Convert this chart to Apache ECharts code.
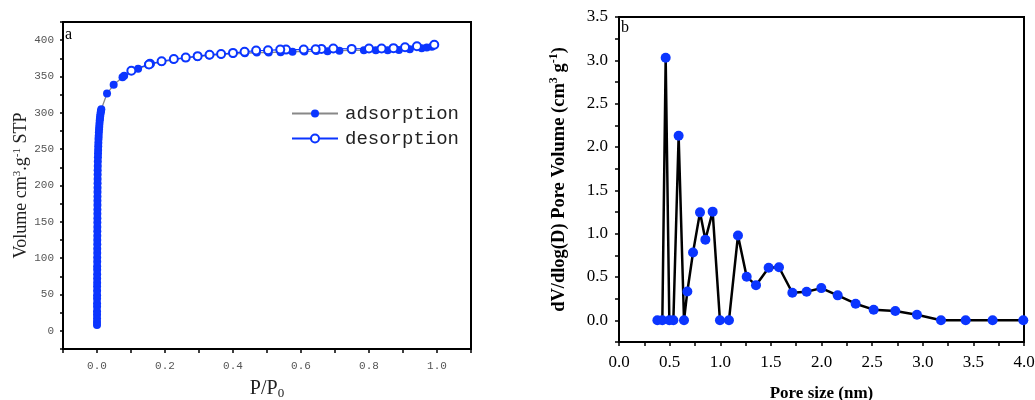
<!DOCTYPE html>
<html>
<head>
<meta charset="utf-8">
<script src="https://cdn.jsdelivr.net/npm/echarts@6/dist/echarts.min.js"></script>
<style>html,body{margin:0;padding:0;background:#fff;}#c{width:1035px;height:400px;}</style>
</head>
<body>
<div id="c"></div>
<script>
// ---- Panel a: N2 isotherm ----
const adsP = [0.0000,0.0000,0.0001,0.0001,0.0001,0.0002,0.0002,0.0002,0.0003,0.0003,
  0.0003,0.0004,0.0004,0.0005,0.0005,0.0005,0.0006,0.0006,0.0007,0.0007,
  0.0008,0.0008,0.0009,0.0009,0.0010,0.0010,0.0011,0.0011,0.0012,0.0013,
  0.0013,0.0014,0.0015,0.0016,0.0017,0.0018,0.0019,0.0020,0.0022,0.0024,
  0.0027,0.0030,0.0033,0.0036,0.0040,0.0044,0.0049,0.0054,0.0060,0.0066,
  0.0072,0.0079,0.0086,0.0093,0.0101,0.0110,0.0118,0.0127,
  0.0295,0.049,0.075,0.080,0.121,
  0.150,0.190,0.225,0.260,0.295,0.330,0.365,0.400,0.435,0.470,0.505,0.540,0.575,
  0.610,0.645,0.678,0.713,0.750,0.785,0.820,0.855,0.888,0.920,0.955,0.970,0.985];
const adsV = [8,12,17,22,27,33,38,44,49,55,
  61,66,72,78,84,89,95,101,107,113,
  119,125,131,137,143,149,155,161,167,173,
  179,185,191,197,203,209,215,221,227,233,
  239,244,249,254,259,264,268,273,277,281,
  285,289,292,295,298,301,303,305,
  326.5,338.5,349,351,360.5,
  366,370,373,375.5,377,379,380,381,382,383,383,383.5,384,
  384.5,385,384.8,385.5,386,386,386,386,386.5,387.5,389,390,391];
const desP = [0.992,0.941,0.906,0.872,0.837,0.800,0.749,0.695,0.660,0.643,0.608,0.556,0.539,
  0.503,0.468,0.434,0.400,0.365,0.331,0.296,0.261,0.226,0.190,0.156,0.153,0.101];
const desV = [393.6,391.7,390.3,389,388.5,388.5,388,388.5,388,387.6,387,387,387,
  386,385.8,384,382.5,381,380,378,376,374,371,367.5,366.5,358];

// ---- Panel b: pore size distribution ----
const poreSize = [0.379,0.428,0.461,0.497,0.537,0.589,0.642,0.675,0.731,0.800,0.853,0.925,
  0.997,1.086,1.175,1.261,1.353,1.478,1.580,1.712,1.853,1.998,2.160,2.337,2.515,2.729,
  2.943,3.180,3.424,3.690,3.993];
const poreVol = [0,0,3.03,0,0,2.13,0,0.333,0.782,1.246,0.931,1.254,
  0,0,0.978,0.502,0.406,0.606,0.613,0.318,0.330,0.372,0.288,0.192,0.123,0.107,
  0.065,0,0,0,0];

const seriesNames = ['adsorption','desorption'];
const BLUE = '#0b35ff';

const chart = echarts.init(document.getElementById('c'), null, {renderer:'canvas'});
const serif = 'Liberation Serif';
const mono = 'Liberation Mono';

chart.setOption({
  animation: false,
  backgroundColor: '#fff',
  grid: [
    {left:63, top:22, width:408, height:327, show:true, borderColor:'#000', borderWidth:2,
     backgroundColor:'transparent', containLabel:false, outerBoundsMode:'none'},
    {left:619, top:17, width:405, height:325, show:true, borderColor:'#000', borderWidth:2,
     backgroundColor:'transparent', containLabel:false, outerBoundsMode:'none'}
  ],
  legend: {
    data: seriesNames,
    left: 286, top: 99, orient:'vertical',
    itemWidth: 46, itemHeight: 10, itemGap: 6,
    textStyle: {fontFamily: mono, fontSize: 19, color:'#222', padding:[0,0,0,2]}
  },
  xAxis: [
    {gridIndex:0, type:'value', min:-0.1, max:1.1, interval:0.1,
     name:'P/P{sub|0}', nameLocation:'middle', nameGap:28,
     nameTextStyle:{fontFamily:serif, fontSize:20, color:'#222',
       rich:{sub:{fontFamily:serif, fontSize:13, color:'#222', verticalAlign:'bottom', padding:[10,0,0,0]}}},
     axisLine:{onZero:false, lineStyle:{color:'#000', width:2}},
     axisTick:{show:true, length:4, lineStyle:{color:'#000', width:1.5}},
     axisLabel:{margin:12, fontFamily:mono, fontSize:11, color:'#555',
       formatter:v=>{const r=Math.round(v*10); return (r%2===0&&r>=0&&r<=10)?(r/10).toFixed(1):'';}},
     splitLine:{show:false}},
    {gridIndex:1, type:'value', min:0, max:4, interval:0.25,
     name:'Pore size (nm)', nameLocation:'middle', nameGap:43,
     nameTextStyle:{fontFamily:serif, fontSize:17, fontWeight:'bold', color:'#000'},
     axisLine:{onZero:false, lineStyle:{color:'#000', width:2}},
     axisTick:{show:true, length:4, lineStyle:{color:'#000', width:1.5}},
     axisLabel:{margin:12, fontFamily:serif, fontSize:17, color:'#000', showMaxLabel:true,
       formatter:v=>{const r=Math.round(v*4); return (r%2===0)?(r/4).toFixed(1):'';}},
     splitLine:{show:false}}
  ],
  yAxis: [
    {gridIndex:0, type:'value', min:-25, max:425, interval:25,
     name:'Volume cm{sup|3}.g{sup|-1} STP', nameLocation:'middle', nameGap:31,
     nameTextStyle:{fontFamily:serif, fontSize:18, color:'#222',
       rich:{sup:{fontFamily:serif, fontSize:11, color:'#222', verticalAlign:'top', padding:[0,0,9,0]}}},
     axisLine:{onZero:false, lineStyle:{color:'#000', width:2}},
     axisTick:{show:true, length:3, lineStyle:{color:'#000', width:1.5}},
     axisLabel:{margin:9, fontFamily:mono, fontSize:11, color:'#555',
       formatter:v=>{const r=Math.round(v); return (r%50===0&&r>=0&&r<=400)?String(r):'';}},
     splitLine:{show:false}},
    {gridIndex:1, type:'value', min:-0.25, max:3.5, interval:0.25,
     name:'dV/dlog(D) Pore Volume (cm{sup|3} g{sup|-1})', nameLocation:'middle', nameGap:49,
     nameTextStyle:{fontFamily:serif, fontSize:18.5, fontWeight:'bold', color:'#000',
       rich:{sup:{fontFamily:serif, fontSize:12, fontWeight:'bold', color:'#000', verticalAlign:'top', padding:[0,0,10,0]}}},
     axisLine:{onZero:false, lineStyle:{color:'#000', width:2}},
     axisTick:{show:true, length:4, lineStyle:{color:'#000', width:1.5}},
     axisLabel:{margin:11, fontFamily:serif, fontSize:17, color:'#000',
       formatter:v=>{const r=Math.round(v*4); return (r%2===0&&r>=0)?(r/4).toFixed(1):'';}},
     splitLine:{show:false}}
  ],
  graphic: [
    {type:'text', left:65, top:27, style:{text:'a', font:'16px "Liberation Serif"', fill:'#000'}},
    {type:'text', left:621, top:20, style:{text:'b', font:'16px "Liberation Serif"', fill:'#000'}}
  ],
  series: [
    {name:seriesNames[0], type:'line', xAxisIndex:0, yAxisIndex:0,
     data: adsP.map((p,i)=>[p, adsV[i]]),
     symbol:'circle', symbolSize:8, showAllSymbol:true,
     itemStyle:{color:BLUE}, lineStyle:{color:'#888', width:1.3}},
    {name:seriesNames[1], type:'line', xAxisIndex:0, yAxisIndex:0,
     data: desP.map((p,i)=>[p, desV[i]]),
     symbol:'emptyCircle', symbolSize:8, showAllSymbol:true,
     itemStyle:{color:BLUE, borderWidth:1.3}, lineStyle:{color:BLUE, width:1.2}},
    {name:'psd', type:'line', xAxisIndex:1, yAxisIndex:1,
     data: poreSize.map((s,i)=>[s, poreVol[i]]),
     symbol:'circle', symbolSize:10, showAllSymbol:true,
     itemStyle:{color:BLUE}, lineStyle:{color:'#000', width:2.5}}
  ]
});
</script>
</body>
</html>
